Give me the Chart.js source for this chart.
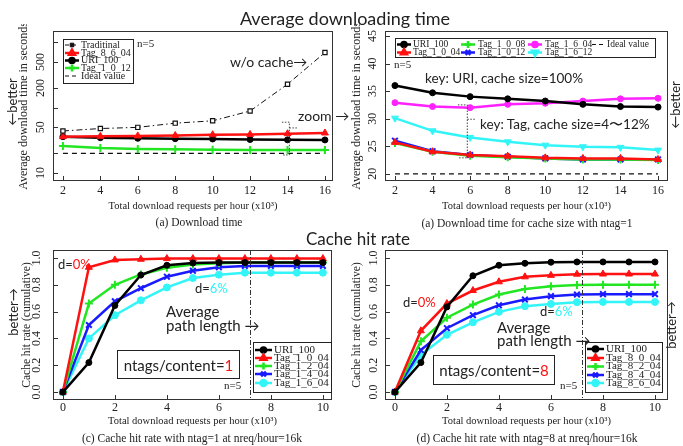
<!DOCTYPE html>
<html>
<head>
<meta charset="utf-8">
<script src="https://cdn.jsdelivr.net/npm/chart.js@4.4.0/dist/chart.umd.min.js"></script>
<style>
  body { margin: 0; background: #fff; }
  #page { position: relative; width: 683px; height: 446px; overflow: hidden; font-family: Lato, "Open Sans", sans-serif; color: #222; }
  canvas { position: absolute; }
  .t { position: absolute; white-space: nowrap; line-height: 1; }
  .serif { font-family: "Liberation Serif", "DejaVu Serif", serif; }
  .boxed { position: absolute; border: 1px solid #222; display: flex; align-items: center; justify-content: center; font-size: 15px; }
</style>
</head>
<body>
<div id="page">
  <canvas id="c1"></canvas>
  <canvas id="c2"></canvas>
  <canvas id="c3"></canvas>
  <canvas id="c4"></canvas>
</div>
<script>
// ---- data ----
const xsTime = [2, 4, 6, 8, 10, 12, 14, 16];
const traditional = [44, 48, 50, 58, 63, 89, 229, 700];
const tag8604Time = [36, 36.5, 37, 37.5, 38.5, 39, 40, 41];
const uri100Time = [36.0, 34.7, 34.0, 33.6, 33.2, 32.6, 32.2, 32.1];
const tag1004Time = [25.7, 24.0, 23.4, 23.2, 22.9, 22.8, 22.8, 22.6];
const tag1008Time = [25.6, 24.0, 23.3, 23.0, 22.8, 22.6, 22.6, 22.5];
const tag1012Time = [26.0, 24.1, 23.4, 23.1, 22.8, 22.6, 22.6, 22.6];
const tag1604Time = [32.9, 32.2, 32.0, 32.6, 32.8, 33.2, 33.6, 33.7];
const tag1612Time = [30.1, 27.8, 26.6, 25.8, 25.2, 24.9, 24.8, 24.3];
const idealTime = [20, 20, 20, 20, 20, 20, 20, 20];

const xsHit = [0, 1, 2, 3, 4, 5, 6, 7, 8, 9, 10];
const uri100Hit1 = [0, 0.22, 0.645, 0.873, 0.945, 0.962, 0.965, 0.965, 0.965, 0.965, 0.965];
const tag1004Hit = [0, 0.93, 0.985, 0.99, 0.995, 0.995, 0.995, 0.995, 0.995, 0.995, 0.995];
const tag1204Hit = [0, 0.66, 0.80, 0.877, 0.926, 0.95, 0.96, 0.965, 0.965, 0.965, 0.965];
const tag1404Hit = [0, 0.50, 0.676, 0.774, 0.86, 0.904, 0.93, 0.94, 0.94, 0.94, 0.94];
const tag1604Hit = [0, 0.40, 0.573, 0.684, 0.78, 0.85, 0.875, 0.89, 0.89, 0.89, 0.89];

const uri100Hit8 = [0, 0.22, 0.635, 0.867, 0.945, 0.96, 0.968, 0.97, 0.97, 0.97, 0.97];
const tag8004Hit = [0, 0.457, 0.66, 0.757, 0.822, 0.859, 0.87, 0.879, 0.88, 0.88, 0.88];
const tag8204Hit = [0, 0.378, 0.554, 0.652, 0.727, 0.768, 0.788, 0.798, 0.80, 0.80, 0.80];
const tag8404Hit = [0, 0.313, 0.476, 0.573, 0.647, 0.69, 0.715, 0.727, 0.73, 0.73, 0.73];
const tag8604Hit = [0, 0.277, 0.427, 0.52, 0.598, 0.64, 0.657, 0.67, 0.672, 0.672, 0.672];
const avgPathLength = 7.2;

// tick labels
const xTicksTime = [2, 4, 6, 8, 10, 12, 14, 16];
const yTicksLog = [10, 20, 50, 100, 200, 500, 1000];
const yLabelsLog = ["10", "", "50", "", "200", "500", ""];
const yTicksZoom = [20, 25, 30, 35, 40, 45];
const xTicksHit = [0, 2, 4, 6, 8, 10];
const yTicksHit = [0, 0.2, 0.4, 0.6, 0.8, 1.0];
const yLabelsHit = ["0.0", "0.2", "0.4", "0.6", "0.8", "1.0"];

const RED = "#ff1111", GREEN = "#22e622", BLUE = "#1a1aff", CYAN = "#33f4f7", MAGENTA = "#ff22ff", BLACK = "#000";
const SERIF = '"Liberation Serif", "DejaVu Serif", serif';
const page = document.getElementById("page");

function series(label, xs, ys, color, style, extra) {
  return Object.assign({
    label: label,
    data: xs.map((x, i) => ({ x: x, y: ys[i] })),
    borderColor: color,
    backgroundColor: color,
    pointBackgroundColor: color,
    pointBorderColor: color,
    borderWidth: 2.5,
    pointStyle: style,
    pointRadius: 3,
    pointBorderWidth: 1,
    tension: 0,
    fill: false
  }, extra || {});
}
const crossPt = { pointRadius: 4, pointBorderWidth: 2 };
const ideal = (xs, ys) => series("Ideal value", xs, ys, "#111", false, { borderWidth: 1.2, borderDash: [5, 4], pointRadius: 0 });

function drawLegend(ctx, L, datasets, ox, oy) {
  ctx.save();
  ctx.strokeStyle = "#222";
  ctx.lineWidth = 1;
  ctx.setLineDash([]);
  ctx.strokeRect(L.box[0] - ox + 0.5, L.box[1] - oy + 0.5, L.box[2] - L.box[0], L.box[3] - L.box[1]);
  ctx.font = L.font;
  ctx.textAlign = "left";
  ctx.textBaseline = "middle";
  datasets.forEach((ds, i) => {
    const col = Math.floor(i / L.rows), row = i % L.rows;
    const sx = L.sx[col] - ox, tx = L.tx[col] - ox, yy = L.y[row] - oy;
    ctx.strokeStyle = ds.borderColor;
    ctx.lineWidth = ds.borderWidth;
    ctx.setLineDash(ds.borderDash ? [4, 3] : []);
    ctx.beginPath();
    ctx.moveTo(sx, yy);
    ctx.lineTo(sx + L.w, yy);
    ctx.stroke();
    ctx.setLineDash([]);
    if (ds.pointStyle && ds.pointRadius > 0) {
      ctx.fillStyle = ds.pointBorderColor === ds.pointBackgroundColor ? ds.borderColor : ds.pointBorderColor;
      ctx.strokeStyle = ds.pointBorderColor;
      Chart.helpers.drawPoint(ctx, { pointStyle: ds.pointStyle, radius: ds.pointRadius * 0.85, rotation: ds.pointRotation || 0, borderWidth: ds.pointBorderWidth }, sx + L.w / 2, yy);
    }
    ctx.fillStyle = "#222";
    ctx.fillText(ds.label, tx, yy);
  });
  ctx.restore();
}

function framePlugin(o) {
  return {
    id: "frame",
    afterDraw(chart) {
      const { ctx, chartArea: a, scales } = chart;
      const x = scales.x, y = scales.y;
      ctx.save();
      ctx.strokeStyle = "#333";
      ctx.lineWidth = 1;
      ctx.strokeRect(Math.round(a.left) + 0.5, Math.round(a.top) + 0.5, Math.round(a.right - a.left) - 1, Math.round(a.bottom - a.top) - 1);
      ctx.beginPath();
      o.xTicks.forEach(v => {
        const px = Math.round(x.getPixelForValue(v)) + 0.5;
        ctx.moveTo(px, a.bottom); ctx.lineTo(px, a.bottom - 5);
      });
      o.yTicks.forEach(v => {
        const py = Math.round(y.getPixelForValue(v)) + 0.5;
        ctx.moveTo(a.left, py); ctx.lineTo(a.left + 5, py);
      });
      ctx.stroke();
      ctx.fillStyle = "#222";
      ctx.font = "12px " + SERIF;
      ctx.textAlign = "center";
      ctx.textBaseline = "middle";
      o.xTicks.forEach(v => ctx.fillText(String(v), x.getPixelForValue(v), a.bottom + o.xOff));
      o.yTicks.forEach((v, i) => {
        const lab = o.yLabels[i];
        if (!lab) return;
        ctx.save();
        ctx.translate(a.left - o.yOff, y.getPixelForValue(v));
        ctx.rotate(-Math.PI / 2);
        ctx.fillText(lab, 0, 0);
        ctx.restore();
      });
      if (o.shapes) o.shapes(chart, ctx);
      drawLegend(ctx, o.legend, chart.data.datasets, o.ox, o.oy);
      ctx.restore();
    }
  };
}

function makeChart(id, box, area, axes, datasets, o) {
  const cv = document.getElementById(id);
  cv.width = box.w; cv.height = box.h;
  cv.style.left = box.left + "px"; cv.style.top = box.top + "px";
  const yW = area.l - box.left, xH = box.top + box.h - area.b;
  o.ox = box.left; o.oy = box.top;
  return new Chart(cv, {
    type: "line",
    data: { datasets: datasets },
    options: {
      responsive: false,
      animation: false,
      devicePixelRatio: 1,
      layout: { padding: { left: 0, top: area.t - box.top, right: box.left + box.w - area.r, bottom: 0 } },
      plugins: { legend: { display: false }, tooltip: { enabled: false } },
      scales: {
        x: {
          type: "linear", min: axes.xMin, max: axes.xMax,
          grid: { display: false }, border: { display: false }, ticks: { display: false },
          afterFit: s => { s.height = xH; },
          title: { display: true, text: "Total download requests per hour (x10³)", color: "#222",
                   font: { family: SERIF, size: 10.5 }, padding: { top: 0, bottom: axes.xTitlePad } }
        },
        y: {
          type: axes.yType, min: axes.yMin, max: axes.yMax,
          grid: { display: false }, border: { display: false }, ticks: { display: false },
          afterFit: s => { s.width = yW; },
          title: { display: true, text: axes.yTitle, color: "#222",
                   font: { family: SERIF, size: axes.yTitleSize }, padding: { top: axes.yTitlePad, bottom: 0 } }
        }
      }
    },
    plugins: [framePlugin(o)]
  });
}

// (a) download time, log scale
makeChart("c1", { left: 0, top: 24, w: 340, h: 192 }, { l: 53, t: 31, r: 333, b: 181 },
  { xMin: 1.47, xMax: 16.43, yType: "logarithmic", yMin: 7.54, yMax: 1496,
    yTitle: "Average download time in seconds", yTitleSize: 12, yTitlePad: 17, xTitlePad: 3 },
  [
    series("Traditinal", xsTime, traditional, "#111", "rect",
      { borderWidth: 1, borderDash: [6, 3, 1.5, 3], pointBackgroundColor: "#fff", pointBorderWidth: 1.2 }),
    series("Tag_8_6_04", xsTime, tag8604Time, RED, "triangle", { pointRadius: 4 }),
    series("URI_100", xsTime, uri100Time, BLACK, "circle"),
    series("Tag_1_0_12", xsTime, tag1012Time, GREEN, "cross", crossPt),
    ideal(xsTime, idealTime)
  ],
  {
    xTicks: xTicksTime, yTicks: yTicksLog, yLabels: yLabelsLog, xOff: 10, yOff: 12,
    legend: { box: [63, 39, 133, 83], rows: 5, sx: [65], tx: [81], w: 14, y: [45, 53, 60.5, 68, 76], font: "10px " + SERIF },
    shapes: (chart, ctx) => {
      const { x, y } = chart.scales;
      const x0 = x.getPixelForValue(13.7), x1 = x.getPixelForValue(14.1), x2 = x.getPixelForValue(14.5);
      const yT = y.getPixelForValue(60), yB = y.getPixelForValue(18.9), yM = y.getPixelForValue(49);
      ctx.strokeStyle = "#444"; ctx.lineWidth = 1; ctx.setLineDash([1.5, 1.5]);
      ctx.beginPath();
      ctx.moveTo(x0, yT); ctx.lineTo(x1, yT); ctx.lineTo(x1, yB); ctx.lineTo(x0, yB);
      ctx.moveTo(x1, yM); ctx.lineTo(x2, yM);
      ctx.stroke();
    }
  });

// (a) zoomed download time
makeChart("c2", { left: 340, top: 24, w: 343, h: 192 }, { l: 385, t: 31, r: 668, b: 181 },
  { xMin: 1.47, xMax: 16.53, yType: "linear", yMin: 18.7, yMax: 45.9,
    yTitle: "Average download time in seconds", yTitleSize: 12, yTitlePad: 10, xTitlePad: 3 },
  [
    series("URI_100", xsTime, uri100Time, BLACK, "circle"),
    series("Tag_1_0_04", xsTime, tag1004Time, RED, "triangle", { pointRadius: 4 }),
    series("Tag_1_0_08", xsTime, tag1008Time, GREEN, "cross", crossPt),
    series("Tag_1_0_12", xsTime, tag1012Time, BLUE, "crossRot", crossPt),
    series("Tag_1_6_04", xsTime, tag1604Time, MAGENTA, "circle"),
    series("Tag_1_6_12", xsTime, tag1612Time, CYAN, "triangle", { pointRadius: 4, pointRotation: 180 }),
    ideal(xsTime, idealTime)
  ],
  {
    xTicks: xTicksTime, yTicks: yTicksZoom, yLabels: yTicksZoom.map(String), xOff: 10, yOff: 12,
    legend: { box: [395, 38, 655, 57], rows: 2, sx: [397, 461, 528, 592], tx: [413, 478, 545, 607], w: 14, y: [44.5, 52.5], font: "9.5px " + SERIF },
    shapes: (chart, ctx) => {
      const { x, y } = chart.scales;
      const x0 = x.getPixelForValue(5.35), x1 = x.getPixelForValue(5.85), x2 = x.getPixelForValue(6.3);
      const yT = y.getPixelForValue(32.5), yB = y.getPixelForValue(22.9), yM = y.getPixelForValue(29.9);
      ctx.strokeStyle = "#444"; ctx.lineWidth = 1; ctx.setLineDash([1.5, 1.5]);
      ctx.beginPath();
      ctx.moveTo(x0, yT); ctx.lineTo(x1, yT); ctx.lineTo(x1, yB); ctx.lineTo(x0, yB);
      ctx.moveTo(x1, yM); ctx.lineTo(x2, yM);
      ctx.stroke();
    }
  });

function pathLine(chart, ctx) {
  const { x } = chart.scales, a = chart.chartArea;
  const px = Math.round(x.getPixelForValue(avgPathLength)) + 0.5;
  ctx.strokeStyle = "#333"; ctx.lineWidth = 1; ctx.setLineDash([5, 2, 1, 2]);
  ctx.beginPath(); ctx.moveTo(px, a.top); ctx.lineTo(px, a.bottom); ctx.stroke();
}

// (c) cache hit rate, ntag=1
makeChart("c3", { left: 0, top: 244, w: 340, h: 190 }, { l: 53, t: 248, r: 332, b: 400 },
  { xMin: -0.38, xMax: 10.35, yType: "linear", yMin: -0.059, yMax: 1.059,
    yTitle: "Cache hit rate (cumulative)", yTitleSize: 11.5, yTitlePad: 20, xTitlePad: 6 },
  [
    series("URI_100", xsHit, uri100Hit1, BLACK, "circle"),
    series("Tag_1_0_04", xsHit, tag1004Hit, RED, "triangle", { pointRadius: 4 }),
    series("Tag_1_2_04", xsHit, tag1204Hit, GREEN, "cross", crossPt),
    series("Tag_1_4_04", xsHit, tag1404Hit, BLUE, "crossRot", crossPt),
    series("Tag_1_6_04", xsHit, tag1604Hit, CYAN, "circle", { pointRadius: 3.5 })
  ],
  {
    xTicks: xTicksHit, yTicks: yTicksHit, yLabels: yLabelsHit, xOff: 8, yOff: 16,
    legend: { box: [253, 342, 331, 392], rows: 5, sx: [255], tx: [274], w: 17, y: [350, 358, 366, 374, 383], font: "11px " + SERIF },
    shapes: pathLine
  });

// (d) cache hit rate, ntag=8
makeChart("c4", { left: 340, top: 244, w: 343, h: 190 }, { l: 385, t: 248, r: 668, b: 400 },
  { xMin: -0.38, xMax: 10.5, yType: "linear", yMin: -0.059, yMax: 1.059,
    yTitle: "Cache hit rate (cumulative)", yTitleSize: 11.5, yTitlePad: 10, xTitlePad: 6 },
  [
    series("URI_100", xsHit, uri100Hit8, BLACK, "circle"),
    series("Tag_8_0_04", xsHit, tag8004Hit, RED, "triangle", { pointRadius: 4 }),
    series("Tag_8_2_04", xsHit, tag8204Hit, GREEN, "cross", crossPt),
    series("Tag_8_4_04", xsHit, tag8404Hit, BLUE, "crossRot", crossPt),
    series("Tag_8_6_04", xsHit, tag8604Hit, CYAN, "circle", { pointRadius: 3.5 })
  ],
  {
    xTicks: xTicksHit, yTicks: yTicksHit, yLabels: yLabelsHit, xOff: 8, yOff: 11,
    legend: { box: [585, 342, 662, 392], rows: 5, sx: [587], tx: [606], w: 17, y: [349, 358, 366.5, 375, 383], font: "11px " + SERIF },
    shapes: pathLine
  });

// ---- texts around the plots ----
function text(html, x, y, size, opts) {
  opts = opts || {};
  const d = document.createElement("div");
  d.className = "t" + (opts.serif ? " serif" : "");
  d.innerHTML = html;
  d.style.fontSize = size + "px";
  d.style.left = x + "px";
  d.style.top = y + "px";
  let tr = opts.center ? "translate(-50%,-50%)" : "translateY(-50%)";
  if (opts.rot) tr = "translate(-50%,-50%) rotate(-90deg)";
  d.style.transform = tr;
  page.appendChild(d);
}
function boxed(html, l, t, r, b) {
  const d = document.createElement("div");
  d.className = "boxed";
  d.innerHTML = html;
  d.style.left = l + "px"; d.style.top = t + "px";
  d.style.width = (r - l) + "px"; d.style.height = (b - t) + "px";
  page.appendChild(d);
}
const red = s => '<span style="color:#ff1111">' + s + "</span>";
const cyan = s => '<span style="color:#33f4f7">' + s + "</span>";

text("Average downloading time", 345, 18, 18, { center: true });
text("Cache hit rate", 358, 238, 17, { center: true });

text("(a) Download time", 199, 223, 11.5, { serif: true, center: true });
text("(a) Download time for cache size with ntag=1", 527, 224, 11.5, { serif: true, center: true });
text("(c) Cache hit rate with ntag=1 at nreq/hour=16k", 192, 439, 11.5, { serif: true, center: true });
text("(d) Cache hit rate with ntag=8 at nreq/hour=16k", 527, 439, 11.5, { serif: true, center: true });

text("←better", 12, 102, 13, { rot: true });
text("←better", 675, 105, 13, { rot: true });
text("better→", 13, 312, 13, { rot: true });
text("better→", 671, 325, 13, { rot: true });

text("n=5", 137, 43, 11, { serif: true });
text("w/o cache→", 230, 62, 14);
text("zoom →", 298, 116, 14);

text("n=5", 394, 64, 11, { serif: true });
text("key: URI, cache size=100%", 425, 79, 13.5);
text("key: Tag, cache size=4〜12%", 480, 125, 13.5);

text("d=" + red("0%"), 58, 264, 13);
text("d=" + cyan("6%"), 195, 288, 13);
text("Average", 166, 311, 15);
text("path length →", 166, 325, 15);
boxed("ntags/content=" + red("1"), 117, 350, 238, 377);
text("n=5", 224, 385, 11, { serif: true });

text("d=" + red("0%"), 403, 302, 13);
text("d=" + cyan("6%"), 540, 311, 13);
text("Average", 497, 327, 15);
text("path length →", 497, 340, 15);
boxed("ntags/content=" + red("8"), 433, 355, 553, 383);
text("n=5", 560, 385, 11, { serif: true });
</script>
</body>
</html>
